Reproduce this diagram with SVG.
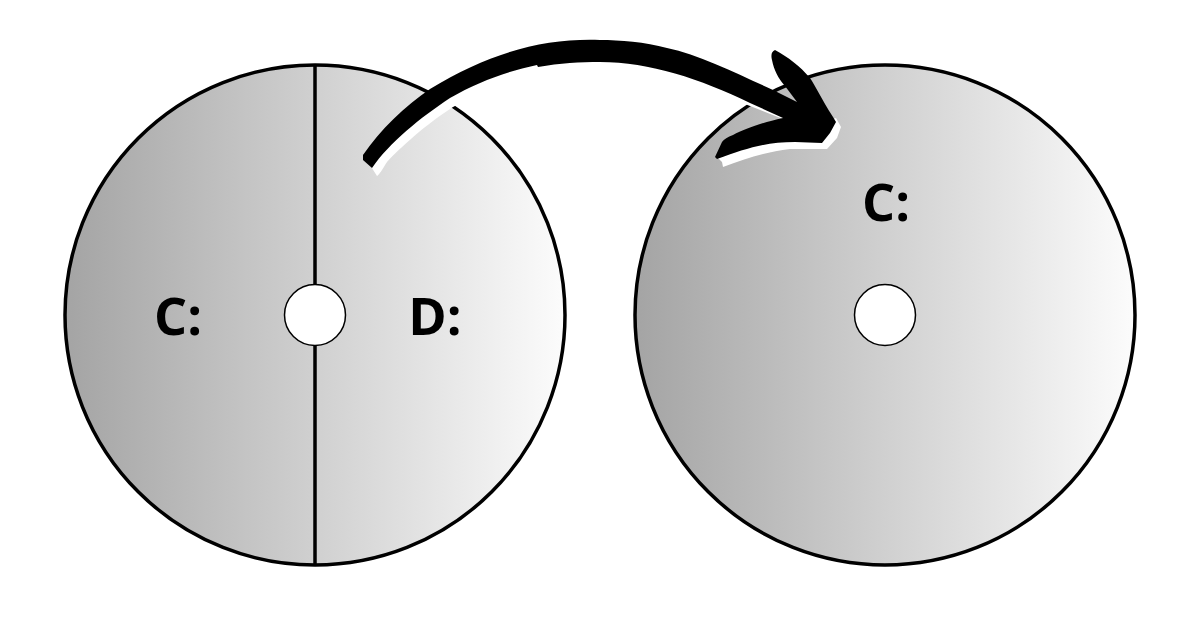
<svg xmlns="http://www.w3.org/2000/svg" width="1200" height="630" viewBox="0 0 1200 630">
<defs>
<linearGradient id="disk" x1="0" y1="0" x2="1" y2="0"><stop offset="0" stop-color="#a4a4a4"/><stop offset="1" stop-color="#fcfcfc"/></linearGradient>
</defs>
<style>
.disk{fill:url(#disk);stroke:#000;stroke-width:3.5}
.hole{fill:#fff;stroke:#000;stroke-width:1.5}
.div{stroke:#000;stroke-width:3.5;fill:none}
.lbl{font-family:"Open Sans",sans-serif;font-weight:700;font-size:52px;fill:#000;text-anchor:middle}
</style>
<rect width="1200" height="630" fill="#fff"/>
<g id="disk-left">
<circle class="disk" cx="315" cy="315" r="250"/>
<line class="div" x1="315" y1="65" x2="315" y2="565"/>
<circle class="hole" cx="315" cy="315" r="30.5"/>
<text class="lbl" x="178" y="335">C:</text>
<text class="lbl" x="435" y="335">D:</text>
</g>
<g id="disk-right">
<circle class="disk" cx="885" cy="315" r="250"/>
<circle class="hole" cx="885" cy="315" r="30.5"/>
<text class="lbl" x="886" y="221">C:</text>
</g>
<g id="connectors">
<path fill="#fff" d="M370 165L377 176C379 175 382 170 387 162C400 148 425 125 453 107L482 92L440 98L400 125Z"/>
<path fill="#fff" d="M745 104L783 119L790 105L772 95Z"/>
<path fill="#fff" d="M717 157L722 162L723 167C745 159 765 152 790 149L827 149L837 138L841 127L836 118L800 130Z"/>
<path fill="#000" d="M600 40C545 38 490 52 430 89C405 106 380 130 363 155L363 160L372 168C390 142 420 118 450 98C478 82 505 72 537 65L538 67C560 63 580 62 600 62C650 62 700 79 750 103L783 118C760 123 745 129 733 135Q725 138 722 142L715 157L717 159C745 149 765 142 795 142L822 143L830 133L836 122L833 117C822 100 815 85 810 78C800 66 788 57 775 50Q770 52 772 60C774 70 778 78 785 86L797 102L773 90C740 75 700 55 667 48C645 42 620 40 600 40Z"/>
</g>
</svg>
